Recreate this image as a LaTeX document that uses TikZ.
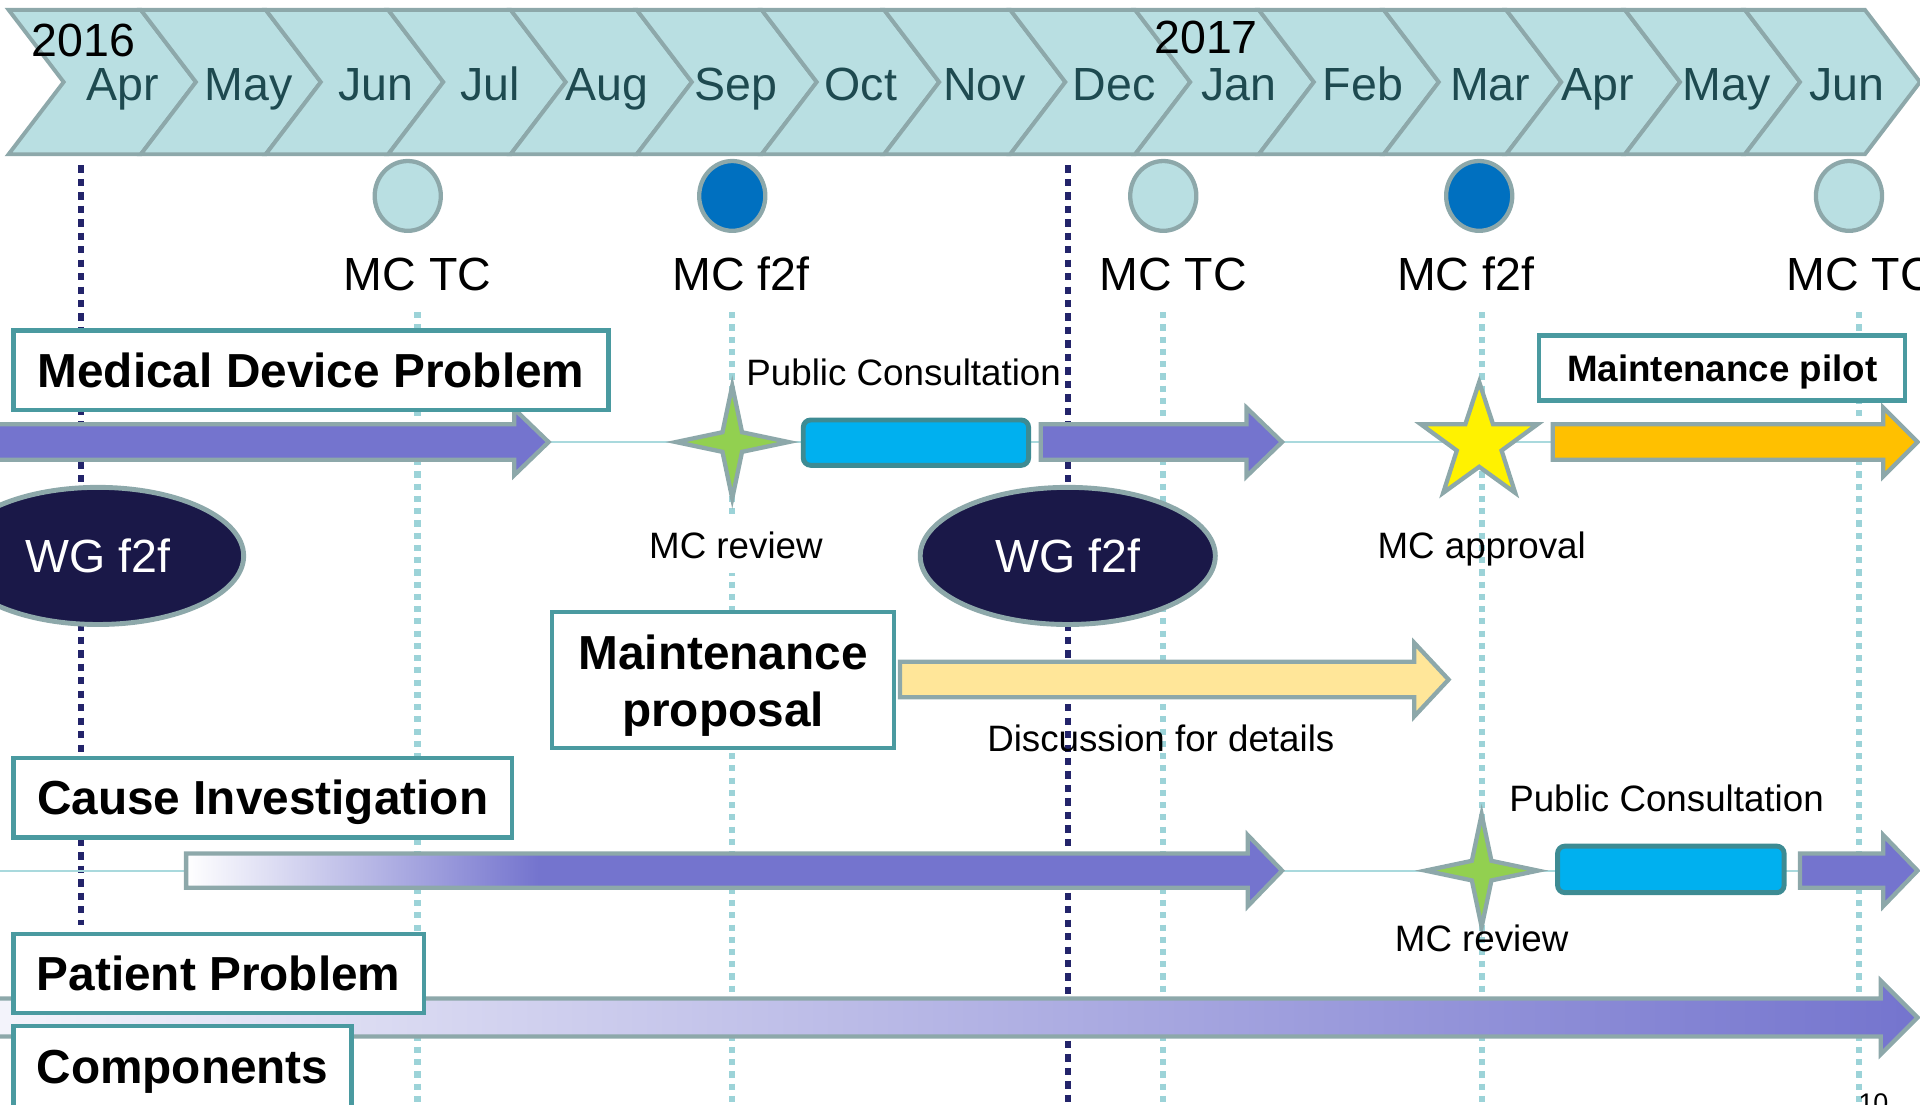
\documentclass[tikz,border=0pt]{standalone}
\usepackage{fontspec}
\setmainfont{Liberation Sans}
\usetikzlibrary{shapes.geometric}

\definecolor{chevfill}{HTML}{B9DFE2}
\definecolor{chevline}{HTML}{8DA8AA}
\definecolor{monthtxt}{HTML}{1E4A50}
\definecolor{boxline}{HTML}{4A9AA0}
\definecolor{purp}{HTML}{7474CE}
\definecolor{purpl}{HTML}{F4F4FB}
\definecolor{navy}{HTML}{1A1848}
\definecolor{darkdot}{HTML}{23246A}
\definecolor{lightdot}{HTML}{9CD3D8}
\definecolor{rowline}{HTML}{A9D9DD}
\definecolor{pcblue}{HTML}{00B0EF}
\definecolor{pcline}{HTML}{3D8B93}
\definecolor{revgreen}{HTML}{92D050}
\definecolor{pilotorange}{HTML}{FFC000}
\definecolor{discyellow}{HTML}{FFE699}
\definecolor{mcfblue}{HTML}{0070C0}

\newcommand\tlfs[1]{\fontsize{#1}{#1}\selectfont}

% block arrow: [options]{x start}{x tip}{y centre}{half shaft}{half head}{head length}
\newcommand\tlarrow[7][]{%
  \draw[blockarr,#1] (#2,#4-#5) -- (#3-#7,#4-#5) -- (#3-#7,#4-#6) -- (#3,#4)
    -- (#3-#7,#4+#6) -- (#3-#7,#4+#5) -- (#2,#4+#5) -- cycle;}

% four-pointed review star: {x}{y}{outer radius}
\newcommand\tlfourstar[3]{%
  \draw[revstar] (#1+#3,#2) -- (#1+8,#2-8) -- (#1,#2-#3) -- (#1-8,#2-8)
    -- (#1-#3,#2) -- (#1-8,#2+8) -- (#1,#2+#3) -- (#1+8,#2+8) -- cycle;}

\begin{document}
\begin{tikzpicture}[x=1pt,y=-1pt,
  chevron/.style={fill=chevfill,draw=chevline,line width=3.2pt,line join=miter},
  month/.style={anchor=base,text=monthtxt,font=\tlfs{38},inner sep=0pt},
  yearlbl/.style={anchor=base,text=black,font=\tlfs{38},inner sep=0pt},
  mcdot/.style={ellipse,minimum width=54pt,minimum height=57pt,inner sep=0pt,draw=chevline,line width=3.5pt},
  lbl/.style={anchor=base,inner sep=0pt,font=\tlfs{38}},
  small/.style={anchor=base,inner sep=0pt,font=\tlfs{30}},
  lightdots/.style={draw=lightdot,line width=5pt,dash pattern=on 5pt off 5pt},
  darkdots/.style={draw=darkdot,line width=4.5pt,dash pattern=on 6pt off 5pt},
  rowrule/.style={draw=rowline,line width=1.5pt},
  blockarr/.style={draw=chevline,line width=3.5pt,line join=miter},
  pcbox/.style={fill=pcblue,draw=pcline,line width=4pt,rounded corners=6pt},
  revstar/.style={fill=revgreen,draw=chevline,line width=3.5pt,line join=miter},
  wg/.style={ellipse,fill=navy,draw=chevline,line width=4pt,text=white,font=\tlfs{38},inner sep=0pt,text height=27pt,text depth=0pt},
  tbox/.style={draw=boxline,line width=3.5pt,fill=white,inner sep=0pt,font=\bfseries\tlfs{39},text height=28pt,text depth=0pt},
]
\useasboundingbox (0,0) rectangle (1568,902);
\clip (0,0) rectangle (1568,902);

% month guide lines
\foreach \x in {341,598,950,1210,1518}
  \draw[lightdots] (\x,255) -- (\x,905);
\draw[darkdots] (66,135) -- (66,755);
\draw[darkdots] (872,135) -- (872,905);

% month chevrons
\foreach \a/\b in {52/160,160/262,262/362,362/462,462/565,565/667,667/767,767/870,870/972,972/1073,1073/1175,1175/1275,1275/1372,1372/1470,1470/1568}
  \draw[chevron] (\a-45,8) -- (\b-45,8) -- (\b,67) -- (\b-45,126) -- (\a-45,126) -- (\a,67) -- cycle;

\foreach \x/\m [count=\i] in {100/Apr,203/May,307/Jun,400/Jul,496/Aug,601/Sep,703/Oct,804/Nov,910/Dec,1012/Jan,1113/Feb,1217/Mar,1305/Apr,1410/May,1508/Jun}
  \node[month] (mon\i) at (\x,82) {\m};
\node[yearlbl] (y2016) at (68,46) {2016};
\node[yearlbl] (y2017) at (985,44) {2017};

% management committee meetings
\node[mcdot,fill=chevfill] (c1) at (333,160) {};
\node[mcdot,fill=mcfblue]  (c2) at (598,160) {};
\node[mcdot,fill=chevfill] (c3) at (950,160) {};
\node[mcdot,fill=mcfblue]  (c4) at (1208,160) {};
\node[mcdot,fill=chevfill] (c5) at (1510,160) {};
\node[lbl] (l1) at (341,237) {MC TC};
\node[lbl] (l2) at (605,237) {MC f2f};
\node[lbl] (l3) at (958,237) {MC TC};
\node[lbl] (l4) at (1197,237) {MC f2f};
\node[lbl] (l5) at (1519,237) {MC TC};

% row rules
\draw[rowrule] (0,361) -- (1568,361);
\draw[rowrule] (0,711) -- (1568,711);

% row 1: medical device problem
\tlarrow[fill=purp]{-6}{448}{361}{14.5}{27}{28}
\tlfourstar{598}{361}{46}
\draw[pcbox] (656,343) rectangle (840,380);
\tlarrow[fill=purp]{850}{1047}{361}{14.5}{28}{29}
\node[star,star points=5,star point ratio=2.6,minimum size=100pt,inner sep=0pt,
      fill=yellow,draw=chevline,line width=3.5pt] (apst) at (1208,362) {};
\tlarrow[fill=pilotorange]{1268}{1566}{361}{14.5}{28}{28}

% row 2: maintenance proposal
\tlarrow[fill=discyellow]{735}{1183}{555}{14.5}{30}{28}

% row 3: cause investigation
\tlarrow[fill=purp,draw=none]{152}{1047}{711}{14}{29}{28}
\shade[left color=white,right color=purp] (152,697) rectangle (440,725);
\tlarrow[fill=none]{152}{1047}{711}{14}{29}{28}
\tlfourstar{1210}{711}{46}
\draw[pcbox] (1272,691) rectangle (1457,729);
\tlarrow[fill=purp]{1470}{1566}{711}{14}{29}{28}

% row 4: patient problem / components
\tlarrow[left color=purpl,right color=purp]{-6}{1566}{831}{15.5}{30}{30}

% working group meetings
\node[wg,minimum width=238pt,minimum height=112pt] (wg1) at (80,454) {WG f2f};
\node[wg,minimum width=241pt,minimum height=112pt] (wg2) at (872,454) {WG f2f};

% topic boxes
\node[tbox,minimum width=486pt,minimum height=65pt] (mdp) at (254,302.5) {Medical Device Problem};
\node[tbox,minimum width=299pt,minimum height=53pt,font=\bfseries\tlfs{30},text height=21.5pt] (mpil) at (1406.5,300.5) {Maintenance pilot};
\node[draw=boxline,line width=3.5pt,fill=white,minimum width=279pt,minimum height=111pt] (mprop) at (590.5,555.5) {};
\node[align=center,inner sep=0pt,font=\bfseries\fontsize{39}{47}\selectfont] (mproptxt) at (590.5,560) {Maintenance\\proposal};
\node[tbox,minimum width=407pt,minimum height=65pt] (cinv) at (214.5,651.5) {Cause Investigation};
\node[tbox,minimum width=335pt,minimum height=64pt] (pprob) at (178.5,795) {Patient Problem};
\node[tbox,minimum width=276pt,minimum height=66pt] (comp) at (149,871) {Components};

% event labels
\node[small] (pc1) at (738,315) {Public Consultation};
\node[small,fill=white,inner ysep=12pt] (rev1) at (601,456) {MC review};
\node[small] (appr) at (1210,456) {MC approval};
\node[small] (disc) at (948,614) {Discussion for details};
\node[small] (pc2) at (1361,663) {Public Consultation};
\node[small] (rev2) at (1210,777) {MC review};

\node[anchor=north,inner sep=0pt,font=\tlfs{22}] (pgno) at (1530,893) {10};
\end{tikzpicture}
\end{document}
